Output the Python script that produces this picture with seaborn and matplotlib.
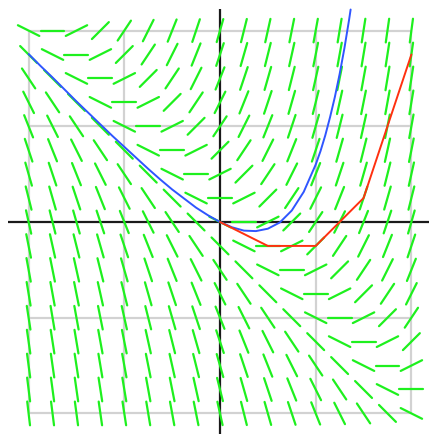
import numpy as np
import pandas as pd
import matplotlib
matplotlib.use("Agg")
import matplotlib.pyplot as plt
import seaborn as sns

sns.set_style("white")

# slope-field grid (17 x 17 points, spacing 0.5)
grid_x = [-4.0, -3.5, -3.0, -2.5, -2.0, -1.5, -1.0, -0.5, 0.0, 0.5, 1.0, 1.5, 2.0, 2.5, 3.0, 3.5, 4.0]
grid_y = [4.0, 3.5, 3.0, 2.5, 2.0, 1.5, 1.0, 0.5, 0.0, -0.5, -1.0, -1.5, -2.0, -2.5, -3.0, -3.5, -4.0]
# slope at each grid point, rows follow grid_y, columns follow grid_x
slopes = [
    [-0.5, 0.0, 0.5, 1.0, 1.5, 2.0, 2.5, 3.0, 3.5, 4.0, 4.5, 5.0, 5.5, 6.0, 6.5, 7.0, 7.5],
    [-1.0, -0.5, 0.0, 0.5, 1.0, 1.5, 2.0, 2.5, 3.0, 3.5, 4.0, 4.5, 5.0, 5.5, 6.0, 6.5, 7.0],
    [-1.5, -1.0, -0.5, 0.0, 0.5, 1.0, 1.5, 2.0, 2.5, 3.0, 3.5, 4.0, 4.5, 5.0, 5.5, 6.0, 6.5],
    [-2.0, -1.5, -1.0, -0.5, 0.0, 0.5, 1.0, 1.5, 2.0, 2.5, 3.0, 3.5, 4.0, 4.5, 5.0, 5.5, 6.0],
    [-2.5, -2.0, -1.5, -1.0, -0.5, 0.0, 0.5, 1.0, 1.5, 2.0, 2.5, 3.0, 3.5, 4.0, 4.5, 5.0, 5.5],
    [-3.0, -2.5, -2.0, -1.5, -1.0, -0.5, 0.0, 0.5, 1.0, 1.5, 2.0, 2.5, 3.0, 3.5, 4.0, 4.5, 5.0],
    [-3.5, -3.0, -2.5, -2.0, -1.5, -1.0, -0.5, 0.0, 0.5, 1.0, 1.5, 2.0, 2.5, 3.0, 3.5, 4.0, 4.5],
    [-4.0, -3.5, -3.0, -2.5, -2.0, -1.5, -1.0, -0.5, 0.0, 0.5, 1.0, 1.5, 2.0, 2.5, 3.0, 3.5, 4.0],
    [-4.5, -4.0, -3.5, -3.0, -2.5, -2.0, -1.5, -1.0, -0.5, 0.0, 0.5, 1.0, 1.5, 2.0, 2.5, 3.0, 3.5],
    [-5.0, -4.5, -4.0, -3.5, -3.0, -2.5, -2.0, -1.5, -1.0, -0.5, 0.0, 0.5, 1.0, 1.5, 2.0, 2.5, 3.0],
    [-5.5, -5.0, -4.5, -4.0, -3.5, -3.0, -2.5, -2.0, -1.5, -1.0, -0.5, 0.0, 0.5, 1.0, 1.5, 2.0, 2.5],
    [-6.0, -5.5, -5.0, -4.5, -4.0, -3.5, -3.0, -2.5, -2.0, -1.5, -1.0, -0.5, 0.0, 0.5, 1.0, 1.5, 2.0],
    [-6.5, -6.0, -5.5, -5.0, -4.5, -4.0, -3.5, -3.0, -2.5, -2.0, -1.5, -1.0, -0.5, 0.0, 0.5, 1.0, 1.5],
    [-7.0, -6.5, -6.0, -5.5, -5.0, -4.5, -4.0, -3.5, -3.0, -2.5, -2.0, -1.5, -1.0, -0.5, 0.0, 0.5, 1.0],
    [-7.5, -7.0, -6.5, -6.0, -5.5, -5.0, -4.5, -4.0, -3.5, -3.0, -2.5, -2.0, -1.5, -1.0, -0.5, 0.0, 0.5],
    [-8.0, -7.5, -7.0, -6.5, -6.0, -5.5, -5.0, -4.5, -4.0, -3.5, -3.0, -2.5, -2.0, -1.5, -1.0, -0.5, 0.0],
    [-8.5, -8.0, -7.5, -7.0, -6.5, -6.0, -5.5, -5.0, -4.5, -4.0, -3.5, -3.0, -2.5, -2.0, -1.5, -1.0, -0.5],
]

# exact solution curve (blue)
exact_x = [-4.0, -3.75, -3.5, -3.25, -3.0, -2.75, -2.5, -2.25, -2.0, -1.75, -1.5, -1.25, -1.0,
           -0.75, -0.5, -0.25, 0.0, 0.25, 0.5, 0.75, 1.0, 1.25, 1.5, 1.75, 2.0, 2.1, 2.2, 2.3,
           2.4, 2.5, 2.6, 2.7, 2.73]
exact_y = [3.51, 3.26, 3.02, 2.77, 2.52, 2.28, 2.04, 1.80, 1.57, 1.34, 1.11, 0.89, 0.68,
           0.49, 0.30, 0.14, 0.0, -0.11, -0.18, -0.19, -0.14, -0.01, 0.24, 0.63, 1.20, 1.48,
           1.81, 2.19, 2.61, 3.09, 3.63, 4.24, 4.44]

# Euler approximation (red)
euler_x = [0.0, 1.0, 2.0, 3.0, 4.0]
euler_y = [0.0, -0.5, -0.5, 0.5, 3.5]

grid_lines = [-4.0, -2.0, 2.0, 4.0]

fig = plt.figure(figsize=(4.30, 4.35), dpi=100)
ax = fig.add_axes([0, 0, 1, 1])

# background grid (box limited to [-4, 4])
for g in grid_lines:
    ax.plot([g, g], [-4, 4], color="#d2d2d2", lw=1.6, zorder=1, solid_capstyle="butt")
    ax.plot([-4, 4], [g, g], color="#d2d2d2", lw=1.6, zorder=1, solid_capstyle="butt")

# coordinate axes
ax.plot([-4.44, 4.36], [0, 0], color="#1a1a1a", lw=1.6, zorder=2, solid_capstyle="butt")
ax.plot([0, 0], [-4.5, 4.45], color="#1a1a1a", lw=1.6, zorder=2, solid_capstyle="butt")

# slope segments
half = 0.25
rows = []
seg = 0
for i, yv in enumerate(grid_y):
    for j, xv in enumerate(grid_x):
        m = slopes[i][j]
        n = np.hypot(1.0, m)
        dx, dy = half / n, half * m / n
        rows.append((seg, xv - dx, yv - dy))
        rows.append((seg, xv + dx, yv + dy))
        seg += 1
seg_df = pd.DataFrame(rows, columns=["seg", "x", "y"])
sns.lineplot(data=seg_df, x="x", y="y", units="seg", estimator=None, sort=False,
             color="#1ef01e", lw=1.6, ax=ax, zorder=3, legend=False)

# exact solution
sns.lineplot(x=exact_x, y=exact_y, sort=False, estimator=None, color="#2f55ff",
             lw=1.4, ax=ax, zorder=4)
# Euler polygon
sns.lineplot(x=euler_x, y=euler_y, sort=False, estimator=None, color="#ff3010",
             lw=1.4, ax=ax, zorder=5)

ax.set_xlim(-4.598, 4.389)
ax.set_ylim(-4.43, 4.66)
ax.set_axis_off()

fig.savefig("out.png", dpi=100)
